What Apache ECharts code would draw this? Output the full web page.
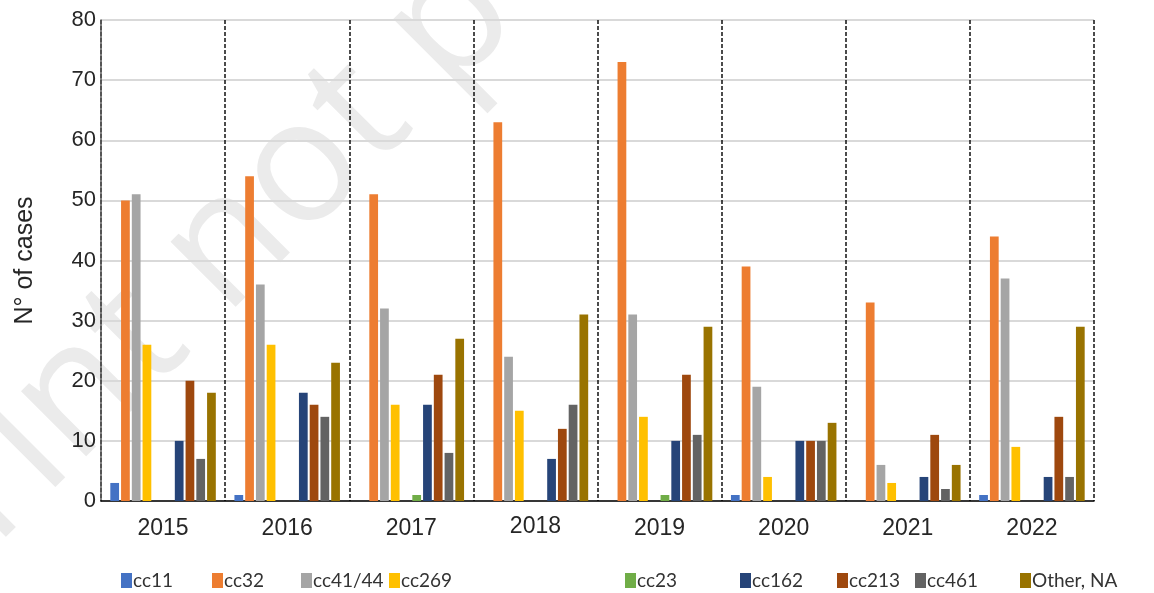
<!DOCTYPE html>
<html>
<head>
<meta charset="utf-8">
<script src="https://cdn.jsdelivr.net/npm/echarts@6/dist/echarts.min.js"></script>
<style>
html,body{margin:0;padding:0;background:#fff;}
#chart{width:1154px;height:593px;}
</style>
</head>
<body>
<div id="chart"></div>
<script>
// ---- data ----
var years = ['2015','2016','2017','2018','2019','2020','2021','2022'];
var yTicks = [0,10,20,30,40,50,60,70,80];
var seriesNames = ['cc11','cc32','cc41/44','cc269','','cc23','cc162','cc213','cc461','Other, NA'];
var cc11   = [3, 1, 0, 0, 0, 1, 0, 1];
var cc32   = [50, 54, 51, 63, 73, 39, 33, 44];
var cc41_44= [51, 36, 32, 24, 31, 19, 6, 37];
var cc269  = [26, 26, 16, 15, 14, 4, 3, 9];
var blank  = [null, null, null, null, null, null, null, null];
var cc23   = [0, 0, 1, 0, 1, 0, 0, 0];
var cc162  = [10, 18, 16, 7, 10, 10, 4, 4];
var cc213  = [20, 16, 21, 12, 21, 10, 11, 14];
var cc461  = [7, 14, 8, 16, 11, 10, 2, 4];
var otherNA= [18, 23, 27, 31, 29, 13, 6, 29];
var seriesValues = [cc11, cc32, cc41_44, cc269, blank, cc23, cc162, cc213, cc461, otherNA];

// ---- styles ----
var colors = ['#4472C4','#ED7D31','#A5A5A5','#FFC000','#5B9BD5','#70AD47','#264478','#9E480E','#636363','#997300'];
var legendLeft = [116, 207, 296, 384, null, 620, 735, 832, 910, 1015];
var axisFont = '"Liberation Sans", Arial, sans-serif';
var textColor = '#262626';

var chart = echarts.init(document.getElementById('chart'), null, {renderer:'canvas'});

var series = seriesNames.map(function(n, i){
  return {
    name: n === '' ? '_blank' : n,
    type: 'bar',
    data: seriesValues[i],
    barGap: '23%',
    barCategoryGap: '15%',
    itemStyle: {color: colors[i]},
    emphasis: {disabled: true},
    animation: false,
    z: 3
  };
});

var legends = [];
seriesNames.forEach(function(n, i){
  if (n === '') return;
  legends.push({
    data: [n],
    left: legendLeft[i],
    top: 566,
    itemWidth: 11,
    itemHeight: 15,
    icon: 'rect',
    selectedMode: false,
    textStyle: {fontFamily: 'Lato, sans-serif', fontSize: 19, color: '#333', padding: [0,0,0,-4]}
  });
});

var option = {
  backgroundColor: '#ffffff',
  animation: false,
  graphic: [{
    type: 'text',
    x: -244, y: 839,
    rotation: Math.PI / 4,
    silent: true,
    z: 0,
    style: {
      text: 'Preprint not peer reviewed',
      fontSize: 172,
      fontFamily: '"Open Sans", sans-serif',
      fill: '#ebebeb',
      textAlign: 'left',
      textVerticalAlign: 'bottom'
    }
  }],
  legend: legends,
  grid: {left: 101, right: 60, top: 20, bottom: 92, containLabel: false},
  xAxis: {
    type: 'category',
    data: years,
    boundaryGap: true,
    axisLine: {show: true, lineStyle: {color: '#000', width: 1.5}},
    axisTick: {show: false, interval: 0},
    axisLabel: {
      interval: 0,
      fontFamily: axisFont, fontSize: 23, color: textColor, margin: 16,
      formatter: function(v){ return v === '2018' ? '{up|' + v + '}' : v; },
      rich: {up: {fontFamily: axisFont, fontSize: 23, color: textColor, lineHeight: 19}}
    },
    splitLine: {show: true, interval: 0, lineStyle: {color: '#111', width: 1.5, type: [4, 2]}}
  },
  yAxis: {
    type: 'value',
    min: yTicks[0],
    max: yTicks[yTicks.length - 1],
    interval: yTicks[1] - yTicks[0],
    name: 'N° of cases',
    nameLocation: 'middle',
    nameGap: 63,
    nameRotate: 90,
    nameTextStyle: {fontFamily: axisFont, fontSize: 25, color: textColor},
    axisLine: {show: true, lineStyle: {color: '#595959', width: 1.5}},
    axisTick: {show: false},
    axisLabel: {fontFamily: axisFont, fontSize: 22, color: textColor, margin: 5},
    splitLine: {show: true, lineStyle: {color: '#d9d9d9', width: 2}}
  },
  series: series
};
chart.setOption(option);
</script>
</body>
</html>
